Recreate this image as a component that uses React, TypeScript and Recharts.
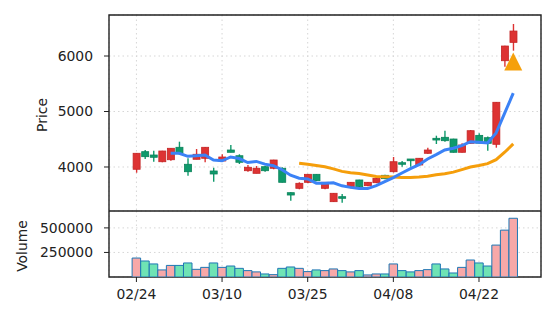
import {
  Bar,
  CartesianGrid,
  Cell,
  ComposedChart,
  Line,
  ReferenceArea,
  Scatter,
  XAxis,
  YAxis,
} from 'recharts';

const dates = [
  '02/24', '02/25', '02/26', '02/27', '02/28', '03/03', '03/04', '03/05', '03/06', '03/07',
  '03/10', '03/11', '03/12', '03/13', '03/14', '03/17', '03/18', '03/19', '03/20', '03/21',
  '03/25', '03/26', '03/27', '03/28', '03/31', '04/01', '04/02', '04/03', '04/04', '04/07',
  '04/08', '04/09', '04/10', '04/11', '04/14', '04/15', '04/16', '04/17', '04/18', '04/21',
  '04/22', '04/23', '04/24', '04/25', '04/28',
];

const opens = [
  3959, 4276, 4216, 4095, 4131, 4355, 4049, 4139, 4157, 3928,
  4108, 4306, 4203, 3933, 3886, 4005, 3977, 3977, 3537, 3616,
  3724, 3868, 3616, 3375, 3465, 3645, 3766, 3663, 3717, 3850,
  3915, 4077, 4144, 4036, 4247, 4517, 4535, 4504, 4265, 4427,
  4570, 4528, 4409, 5915, 6246,
];
const highs = [
  4250, 4306, 4294, 4292, 4340, 4456, 4157, 4324, 4360, 3987,
  4229, 4396, 4229, 4036, 4018, 4023, 4130, 3995, 3544, 3724,
  3870, 3870, 3730, 3530, 3513, 3730, 3770, 3730, 3825, 3860,
  4180, 4108, 4144, 4160, 4348, 4564, 4654, 4510, 4427, 4667,
  4610, 4550, 5170, 6185, 6577,
];
const lows = [
  3897, 4144, 4095, 4085, 4113, 4216, 3843, 4139, 4085, 3735,
  4100, 4265, 4054, 3915, 3886, 3915, 3959, 3720, 3393, 3598,
  3706, 3745, 3600, 3370, 3357, 3616, 3640, 3655, 3710, 3780,
  3900, 4005, 4005, 4030, 4240, 4414, 4456, 4260, 4260, 4420,
  4425, 4293, 4348, 5807, 6096,
];
const closes = [
  4247, 4186, 4175, 4288, 4337, 4247, 3915, 4229, 4355, 3874,
  4180, 4265, 4085, 3995, 3977, 3933, 4126, 3724, 3495, 3706,
  3868, 3753, 3724, 3526, 3436, 3724, 3645, 3724, 3796, 3790,
  4095, 4049, 4113, 4157, 4306, 4486, 4474, 4265, 4396, 4654,
  4430, 4427, 5166, 6180, 6450,
];
const volumes = [
  193000, 163000, 133000, 72000, 118000, 118000, 143000, 78000, 98000, 143000,
  98000, 112000, 88000, 65000, 52000, 31000, 24000, 88000, 102000, 88000,
  55000, 72000, 65000, 82000, 65000, 52000, 65000, 21000, 31000, 31000,
  133000, 65000, 52000, 65000, 75000, 133000, 82000, 41000, 98000, 173000,
  143000, 112000, 325000, 477000, 598000,
];
const ma5 = [
  null, null, null, null, 4247, 4247, 4192, 4203, 4217, 4124,
  4111, 4181, 4152, 4080, 4100, 4051, 4023, 3951, 3851, 3797,
  3784, 3709, 3709, 3715, 3661, 3633, 3611, 3611, 3665, 3736,
  3810, 3891, 3969, 4041, 4144, 4222, 4307, 4338, 4385, 4455,
  4444, 4434, 4615, 4971, 5331,
];
const ma20 = [
  null, null, null, null, null, null, null, null, null, null,
  null, null, null, null, null, null, null, null, null, 4067,
  4048, 4026, 4004, 3966, 3921, 3895, 3881, 3856, 3828, 3824,
  3819, 3809, 3810, 3818, 3835, 3862, 3880, 3907, 3952, 3999,
  4027, 4061, 4133, 4266, 4416,
];
const signals = [{ i: 44, price: 5900 }];

const dateTicks = [0, 10, 20, 30, 40];
const priceTicks = [4000, 5000, 6000];
const volumeTicks = [250000, 500000];

const X_DOMAIN: [number, number] = [-3.2, 47.24];
const PRICE_DOMAIN: [number, number] = [3207, 6739];
const VOLUME_DOMAIN: [number, number] = [0, 672000];

const RED = '#dd3333';
const RED_EDGE = '#c42525';
const GREEN = '#0f9a6c';
const GREEN_EDGE = '#0a8259';
const FONT = 'DejaVu Sans';
const tickStyle = { fontSize: 13.9, fill: '#222', fontFamily: FONT };

const rows = dates.map((date, i) => ({
  i,
  date,
  open: opens[i],
  high: highs[i],
  low: lows[i],
  close: closes[i],
  volume: volumes[i],
  ma5: ma5[i],
  ma20: ma20[i],
}));

function Candle(props: any) {
  const { x, y, width, height, payload } = props;
  const { open, close, high, low } = payload;
  const up = close >= open;
  const h = Math.abs(height);
  const k = high === low ? 0 : h / (high - low);
  const py = (v: number) => y + (high - v) * k;
  const cx = x + width / 2;
  const top = py(Math.max(open, close));
  const bot = py(Math.min(open, close));
  return (
    <g>
      <line x1={cx} x2={cx} y1={y} y2={y + h} stroke={up ? RED : GREEN} strokeWidth={1.4} />
      <rect
        x={x}
        y={top}
        width={width}
        height={Math.max(bot - top, 1)}
        fill={up ? RED : GREEN}
        stroke={up ? RED_EDGE : GREEN_EDGE}
        strokeWidth={0.8}
      />
    </g>
  );
}

function Triangle(props: any) {
  const { cx, cy } = props;
  const r = 9;
  return (
    <polygon
      points={`${cx},${cy - r} ${cx - r},${cy + r} ${cx + r},${cy + r}`}
      fill="#f5a00b"
    />
  );
}

function AxisTitle(props: any) {
  const { viewBox, title, baseX, shiftY = 0 } = props;
  const cy = viewBox.y + viewBox.height / 2 + shiftY;
  return (
    <text
      x={baseX}
      y={cy}
      transform={`rotate(-90, ${baseX}, ${cy})`}
      textAnchor="middle"
      fontSize={13.9}
      fontFamily={FONT}
      fill="#222"
    >
      {title}
    </text>
  );
}

const grid = <CartesianGrid stroke="#d6d6d6" strokeDasharray="1.5 3" />;

export default function App() {
  return (
    <div style={{ position: 'absolute', left: 0, top: 0, width: 556, height: 322, background: '#fff' }}>
      <div style={{ position: 'absolute', left: 0, top: 0 }}>
        <ComposedChart width={556} height={211} data={rows} margin={{ top: 15, right: 15, bottom: 0, left: 0 }}>
          {grid}
          <XAxis dataKey="i" type="number" domain={X_DOMAIN} ticks={dateTicks} allowDataOverflow hide />
          <YAxis
            type="number"
            domain={PRICE_DOMAIN}
            ticks={priceTicks}
            allowDataOverflow
            width={109}
            axisLine={false}
            tickLine={{ stroke: '#222' }}
            tickSize={5}
            tickMargin={11}
            tick={tickStyle}
            label={<AxisTitle title="Price" baseX={46.5} shiftY={2} />}
          />
          <ReferenceArea
            x1={X_DOMAIN[0]}
            x2={X_DOMAIN[1]}
            y1={PRICE_DOMAIN[0]}
            y2={PRICE_DOMAIN[1]}
            fill="none"
            stroke="#222"
            strokeWidth={1.4}
          />
          <Bar
            dataKey={(d: any) => [d.low, d.high]}
            barSize={7}
            shape={<Candle />}
            isAnimationActive={false}
          />
          <Line dataKey="ma20" stroke="#f59e0b" strokeWidth={3} dot={false} connectNulls={false} isAnimationActive={false} />
          <Line dataKey="ma5" stroke="#3b82f6" strokeWidth={3} dot={false} connectNulls={false} isAnimationActive={false} />
          <Scatter data={signals} dataKey="price" shape={<Triangle />} isAnimationActive={false} />
        </ComposedChart>
      </div>
      <div style={{ position: 'absolute', left: 0, top: 211 }}>
        <ComposedChart width={556} height={111} data={rows} margin={{ top: 0, right: 15, bottom: 0, left: 0 }}>
          {grid}
          <XAxis
            dataKey="i"
            type="number"
            domain={X_DOMAIN}
            ticks={dateTicks}
            allowDataOverflow
            height={45}
            axisLine={false}
            tickLine={{ stroke: '#222' }}
            tickSize={5}
            tickMargin={7}
            tick={tickStyle}
            tickFormatter={(v: number) => dates[v] ?? ''}
          />
          <YAxis
            type="number"
            domain={VOLUME_DOMAIN}
            ticks={volumeTicks}
            allowDataOverflow
            width={109}
            axisLine={false}
            tickLine={{ stroke: '#222' }}
            tickSize={5}
            tickMargin={11}
            tick={tickStyle}
            label={<AxisTitle title="Volume" baseX={26.5} shiftY={2} />}
          />
          <Bar dataKey="volume" barSize={8.5} stroke="#1f77b4" strokeWidth={1} isAnimationActive={false}>
            {rows.map((r) => (
              <Cell key={r.i} fill={r.close >= r.open ? '#f7a8a8' : '#6fe3b4'} />
            ))}
          </Bar>
          <ReferenceArea
            x1={X_DOMAIN[0]}
            x2={X_DOMAIN[1]}
            y1={VOLUME_DOMAIN[0]}
            y2={VOLUME_DOMAIN[1]}
            fill="none"
            stroke="#222"
            strokeWidth={1.4}
          />
        </ComposedChart>
      </div>
    </div>
  );
}
